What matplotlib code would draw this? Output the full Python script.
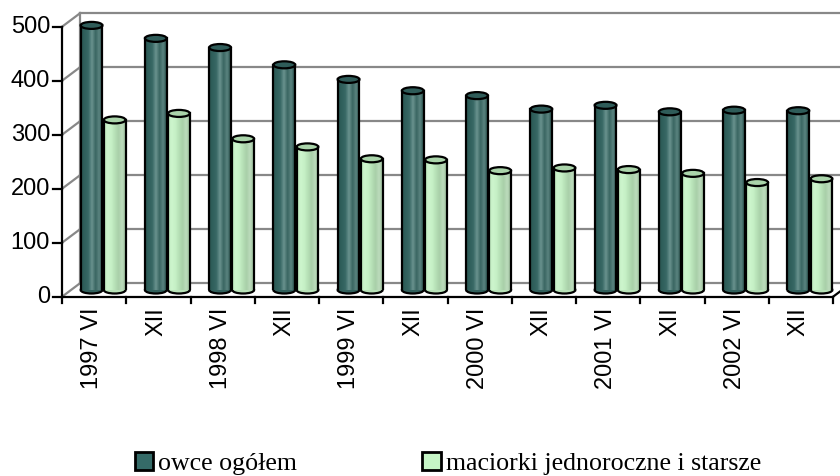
import numpy as np
import matplotlib
matplotlib.use('Agg')
import matplotlib.pyplot as plt
from matplotlib.patches import Ellipse, Patch
from matplotlib.colors import LinearSegmentedColormap

categories = ['1997 VI', 'XII', '1998 VI', 'XII', '1999 VI', 'XII',
              '2000 VI', 'XII', '2001 VI', 'XII', '2002 VI', 'XII']
owce = [490, 466, 449, 417, 390, 369, 360, 335, 342, 330, 333, 332]
maciorki = [315, 327, 280, 265, 243, 241, 221, 226, 223, 216, 199, 206]
yticks = [0, 100, 200, 300, 400, 500]
series_names = ['owce ogółem', 'maciorki jednoroczne i starsze']

dark_cmap = LinearSegmentedColormap.from_list(
    'dark', ['#2a5552', '#30605c', '#386865', '#6a938f', '#3a6662', '#5b8480', '#264d4a'])
green_cmap = LinearSegmentedColormap.from_list(
    'green', ['#c0ecc0', '#cdf5cd', '#c6f0c6', '#b6e0b6', '#a9cfa9', '#bcdcbc', '#9cbd9c'])
grad = np.linspace(0, 1, 64).reshape(1, -1)

fig = plt.figure(figsize=(8.4, 4.76), dpi=100)
ax = fig.add_axes([71 / 840, 186 / 476, 771 / 840, 270 / 476])
ax.set_xlim(-0.5, 11.5)
ax.set_ylim(0, 500)
ax.axis('off')

DX, DY = 0.14, 12.5   # half depth of the fake 3d box, data units
grey = '#888888'

# back wall and left wall gridlines
for v in yticks:
    ax.plot([-0.5 + DX, 12.5], [v + DY, v + DY], color=grey, lw=1.6, clip_on=False, zorder=1)
    ax.plot([-0.5 - DX, -0.5 + DX], [v - DY, v + DY], color=grey, lw=1.6, clip_on=False, zorder=1)
ax.plot([-0.5 + DX] * 2, [DY, 500 + DY], color=grey, lw=1.6, clip_on=False, zorder=1)


def cylinder(xc, h, cmap, topc, sidec):
    w, eh = 0.34, 13
    ax.add_patch(Ellipse((xc, 0), w, eh, facecolor=sidec, edgecolor='k', lw=1.6, zorder=3, clip_on=False))
    ax.imshow(grad, extent=(xc - w / 2, xc + w / 2, 0, h), cmap=cmap, aspect='auto',
              zorder=4, interpolation='bilinear')
    ax.plot([xc - w / 2] * 2, [0, h], color='k', lw=1.6, zorder=5)
    ax.plot([xc + w / 2] * 2, [0, h], color='k', lw=1.6, zorder=5)
    ax.add_patch(Ellipse((xc, h), w, eh, facecolor=topc, edgecolor='k', lw=1.6, zorder=6, clip_on=False))


for i, (a, b) in enumerate(zip(owce, maciorki)):
    cylinder(i - 0.18, a, dark_cmap, '#2f5c59', '#31605c')
    cylinder(i + 0.18, b, green_cmap, '#aad4aa', '#b8e2b8')

ax.set_xlim(-0.5, 11.5)
ax.set_ylim(0, 500)

# front axes
ax.plot([-0.5 - DX] * 2, [-DY, 500 - DY], color='k', lw=1.6, clip_on=False, zorder=7)
ax.plot([-0.5 - DX, 11.5 - DX], [-DY, -DY], color='k', lw=1.6, clip_on=False, zorder=7)
ax.plot([11.5 - DX, 11.5 + DX], [-DY, DY], color='k', lw=1.6, clip_on=False, zorder=7)
for v in yticks:
    ax.plot([-0.5 - DX - 0.14, -0.5 - DX], [v - DY, v - DY], color='k', lw=1.6, clip_on=False, zorder=7)
    ax.text(-0.5 - DX - 0.185, v - DY, str(v), ha='right', va='center', fontsize=17,
            family='Liberation Sans', zorder=8)
for i in range(len(categories) + 1):
    ax.plot([i - 0.5 - DX] * 2, [-DY, -DY - 11], color='k', lw=1.6, clip_on=False, zorder=7)
for i, lab in enumerate(categories):
    ax.text(i - DX - 0.03, -DY - 20, lab, rotation=90, ha='center', va='top', fontsize=17,
            family='Liberation Sans')

handles = [Patch(facecolor='#356b68', edgecolor='k', lw=2),
           Patch(facecolor='#c6f5c6', edgecolor='k', lw=2)]
fig.legend(handles=handles, labels=series_names, loc='center', bbox_to_anchor=(448 / 840, 12.5 / 476),
           ncol=2, frameon=False, prop={'family': 'Liberation Serif', 'size': 18.6},
           handlelength=0.7, handleheight=0.7, handletextpad=0.2, columnspacing=4.85)

fig.savefig('out.png', dpi=100)
